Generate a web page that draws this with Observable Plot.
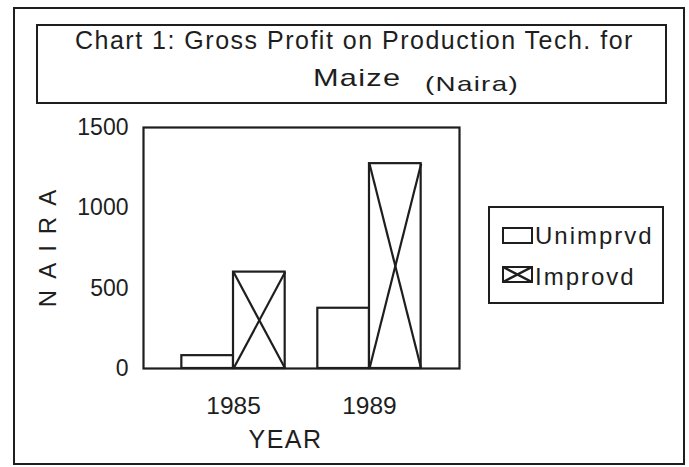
<!DOCTYPE html>
<html>
<head>
<meta charset="utf-8">
<script src="https://cdn.jsdelivr.net/npm/d3@7"></script>
<script src="https://cdn.jsdelivr.net/npm/@observablehq/plot@0.6"></script>
<style>
  body { margin: 0; background: #fff; }
  #wrap { position: relative; width: 689px; height: 467px; overflow: hidden;
          font-family: "Liberation Sans", Arial, sans-serif; color: #1e1e1e; }
  .box { position: absolute; border: 2px solid #1e1e1e; box-sizing: border-box; }
  .t { position: absolute; white-space: nowrap; line-height: 1; }
  #chart { position: absolute; left: 0; top: 0; }
</style>
</head>
<body>
<div id="wrap">
  <div id="chart"></div>
  <div class="box" style="left:13px;top:7px;width:672px;height:458px"></div>
  <div class="box" style="left:36px;top:24px;width:631px;height:80px"></div>
  <div class="t" id="title1" style="left:75px;top:28px;font-size:25px;letter-spacing:1.5px;transform:scaleX(1.0);"></div>
  <div class="t" id="title2" style="left:313px;top:66px;font-size:24px;letter-spacing:1px;transform:scaleX(1.28);transform-origin:left top"></div>
  <div class="t" id="title3" style="left:425px;top:73px;font-size:21px;letter-spacing:1px;transform:scaleX(1.32);transform-origin:left top"></div>
  <div class="box" style="left:488px;top:206px;width:176px;height:98px"></div>
  <div id="legend"></div>
</div>
<script>
// ---- data ----
const years = ["1985", "1989"];
const series = ["Unimprvd", "Improvd"];
const unimproved = [80, 375];
const improved = [600, 1275];
const yTicks = [0, 500, 1000, 1500];
const titleLine1 = "Chart 1: Gross Profit on Production Tech. for";
const titleCrop = "Maize";
const titleUnit = "(Naira)";
const yLabel = "NAIRA";
const xLabel = "YEAR";

// ---- build table ----
const W = 0.38; // bar width in group units
const bars = years.flatMap((year, i) => [
  {year, i, series: series[0], value: unimproved[i], x1: i - W, x2: i},
  {year, i, series: series[1], value: improved[i], x1: i, x2: i + W}
]);
const improvedBars = bars.filter(d => d.series === series[1]);

const ink = "#1e1e1e";
const svg = Plot.plot({
  width: 689,
  height: 467,
  marginLeft: 143,
  marginRight: 230,
  marginTop: 127,
  marginBottom: 99,
  style: {background: "transparent", fontFamily: "'Liberation Sans', Arial, sans-serif", fontSize: "24px", color: ink},
  x: {domain: [-0.662, 1.662]},
  y: {domain: [0, 1500]},
  marks: [
    Plot.rectY(bars, {x1: "x1", x2: "x2", y1: 0, y2: "value", fill: "white", stroke: ink, strokeWidth: 2.2}),
    Plot.link(improvedBars, {x1: "x1", y1: 0, x2: "x2", y2: "value", stroke: ink, strokeWidth: 2.2}),
    Plot.link(improvedBars, {x1: "x1", y1: "value", x2: "x2", y2: 0, stroke: ink, strokeWidth: 2.2}),
    Plot.frame({stroke: ink, strokeWidth: 2.2}),
    Plot.axisY({ticks: yTicks, tickFormat: d => String(d), tickSize: 0, tickPadding: 15, fontSize: 23, label: null}),
    Plot.axisX({ticks: [0, 1], tickFormat: i => years[i], tickSize: 0, tickPadding: 28, fontSize: 24.5, label: null}),
    Plot.text([yLabel], {frameAnchor: "left", dx: -95, rotate: -90, textAnchor: "middle", fontSize: 24, fill: ink}),
    Plot.text([xLabel], {frameAnchor: "bottom", dx: -16, dy: 71, lineAnchor: "middle", textAnchor: "middle", fontSize: 25, fill: ink})
  ]
});
document.getElementById("chart").appendChild(svg);

d3.select(svg).selectAll("text").filter(function() { return this.textContent === yLabel; })
  .attr("letter-spacing", "11px").attr("dx", "5");
d3.select(svg).selectAll("text").filter(function() { return this.textContent === xLabel; })
  .attr("letter-spacing", "1.5px");

document.getElementById("title1").textContent = titleLine1;
document.getElementById("title2").textContent = titleCrop;
document.getElementById("title3").textContent = titleUnit;

// ---- legend ----
const legend = d3.select("#legend");
series.forEach((s, k) => {
  const top = k === 0 ? 227 : 266;
  const sw = legend.append("svg")
    .style("position", "absolute").style("left", "502px").style("top", top + "px")
    .attr("width", 31).attr("height", 17);
  sw.append("rect").attr("x", 1).attr("y", 1).attr("width", 29).attr("height", 15)
    .attr("fill", "white").attr("stroke", ink).attr("stroke-width", 2);
  if (k === 1) {
    sw.append("line").attr("x1", 1).attr("y1", 1).attr("x2", 30).attr("y2", 16).attr("stroke", ink).attr("stroke-width", 2.5);
    sw.append("line").attr("x1", 1).attr("y1", 16).attr("x2", 30).attr("y2", 1).attr("stroke", ink).attr("stroke-width", 2.5);
  }
  legend.append("div").attr("class", "t")
    .style("left", "535px").style("top", (k === 0 ? 224 : 265) + "px")
    .style("font-size", "24px").style("letter-spacing", "2px")
    .text(s);
});
</script>
</body>
</html>
